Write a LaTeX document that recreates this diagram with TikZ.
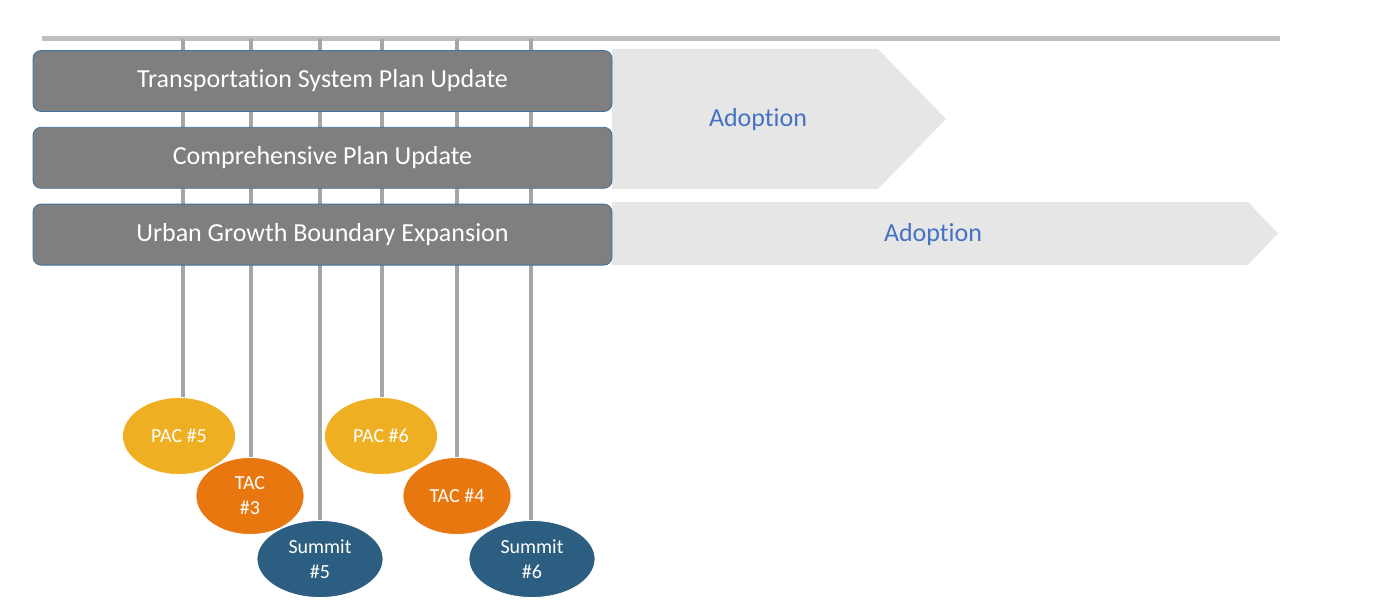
\documentclass[tikz,border=0pt]{standalone}
\usepackage{fontspec}
\setmainfont{Carlito}[Ligatures={NoCommon}]
\usepackage{tikz}
\usetikzlibrary{positioning,shapes}

\definecolor{barfill}{HTML}{7F7F7F}
\definecolor{barline}{HTML}{41719C}
\definecolor{arrowfill}{HTML}{E7E6E6}
\definecolor{adopt}{HTML}{4472C4}
\definecolor{pacgold}{HTML}{EEB022}
\definecolor{tacorange}{HTML}{E8770F}
\definecolor{summitblue}{HTML}{2B5E80}
\definecolor{railgray}{HTML}{BFBFBF}
\definecolor{stemgray}{HTML}{A6A6A6}

\pgfdeclarelayer{background}
\pgfsetlayers{background,main}

\begin{document}
\begin{tikzpicture}[x=1pt, y=-1pt,
          bar/.style = {shape=rectangle, rounded corners=8pt,
            draw=barline, line width=0.8pt, fill=barfill, text=white,
            minimum width=579pt, minimum height=61pt,
            font=\fontsize{26}{30}\selectfont},
          meeting/.style = {shape=ellipse, draw=white, line width=0.8pt,
            text=white, align=center, inner sep=0pt, minimum height=77pt,
            font=\fontsize{20}{25}\selectfont},
          pac/.style = {meeting, fill=pacgold, minimum width=113pt},
          tac/.style = {meeting, fill=tacorange, minimum width=108pt},
          summit/.style = {meeting, fill=summitblue, minimum width=126pt},
          adoption/.style = {text=adopt, font=\fontsize{26}{30}\selectfont},
          stem/.style = {draw=stemgray, line width=3.5pt}]
          \useasboundingbox (0,0) rectangle (1400,610);

          \coordinate (railL) at (42,39);
          \coordinate (railR) at (1280,39);
          \foreach \name/\x in {s1/183, s2/251, s3/320, s4/382, s5/457, s6/531}
            \coordinate (\name) at (\x,39);

          \fill[arrowfill] (612,49) -- (878,49) -- (946,119) -- (878,189) -- (612,189) -- cycle;
          \fill[arrowfill] (612,202) -- (1248,202) -- (1278,233.5) -- (1248,265) -- (612,265) -- cycle;
          \node[adoption] (adopt1) at (758,120) {Adoption};
          \node[adoption] (adopt2) at (933,235) {Adoption};

          \node[bar] (tsp) at (322.5,81) {Transportation System Plan Update};
          \node[bar, below=15pt of tsp] (comp) {Comprehensive Plan Update};
          \node[bar, below=15pt of comp] (ugb) {Urban Growth Boundary Expansion};

          \node[pac] (pac5) at (179,436) {PAC \#5};
          \node[tac] (tac3) at (250,496) {TAC\\\#3};
          \node[summit] (summit5) at (320,559) {Summit\\\#5};
          \node[pac] (pac6) at (381,436) {PAC \#6};
          \node[tac] (tac4) at (457,496) {TAC \#4};
          \node[summit] (summit6) at (532,559) {Summit\\\#6};

          \begin{pgfonlayer}{background}
            \draw[railgray, line width=5pt] (railL) -- (railR);
            \foreach \s/\m in {s1/pac5, s2/tac3, s3/summit5, s4/pac6, s5/tac4, s6/summit6}
              \draw[stem] (\s) -- (\s |- \m.center);
          \end{pgfonlayer}
\end{tikzpicture}
\end{document}
